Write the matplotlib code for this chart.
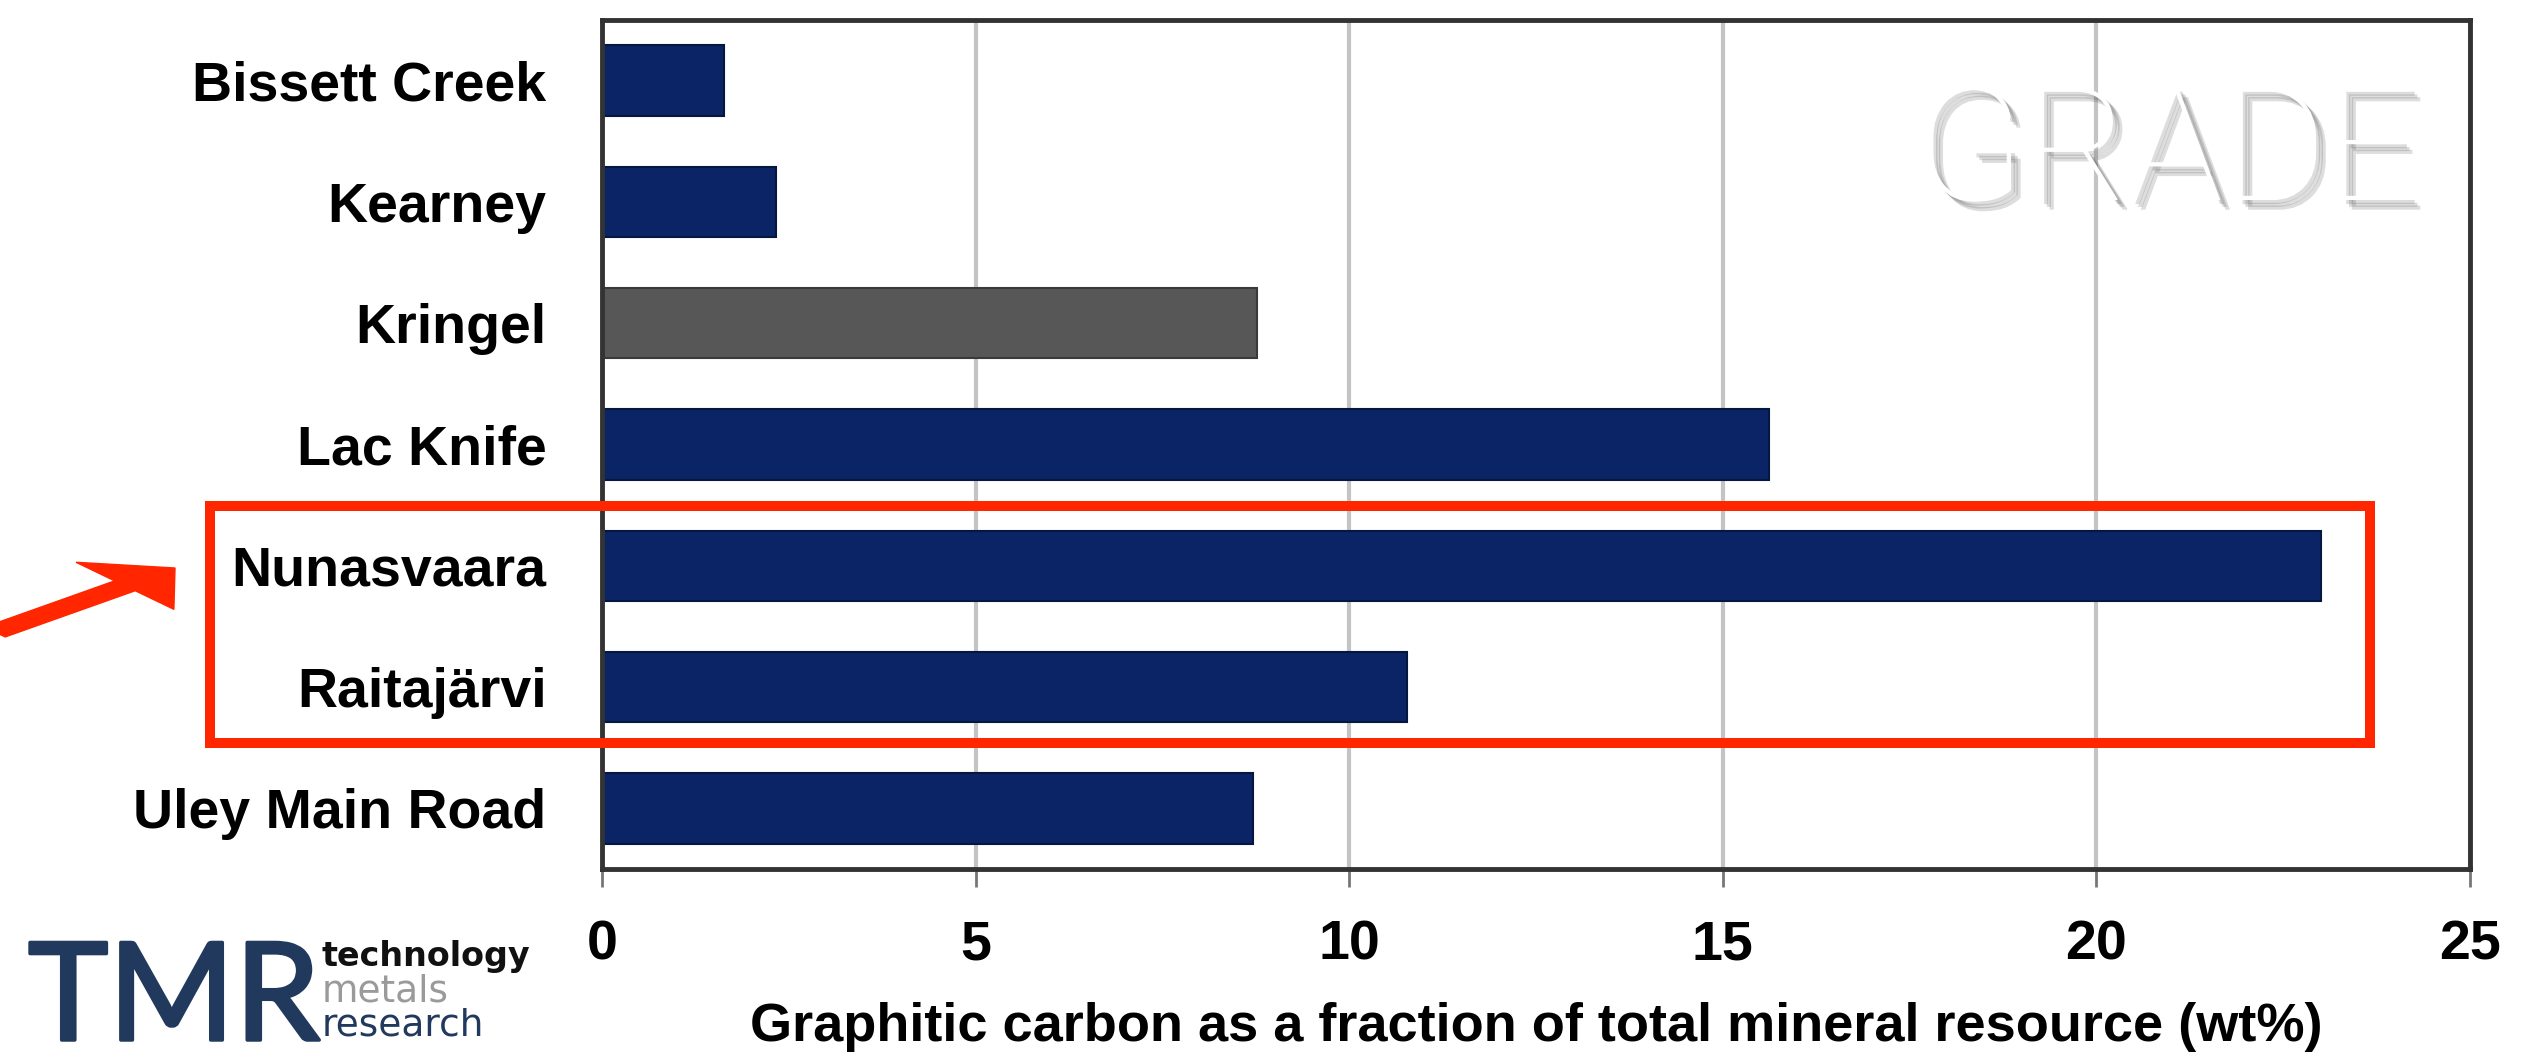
import matplotlib

matplotlib.use("Agg")
import matplotlib.pyplot as plt
import matplotlib.patheffects as pe
from matplotlib.patches import FancyArrow, Rectangle

SITES = ["Bissett Creek", "Kearney", "Kringel", "Lac Knife", "Nunasvaara", "Raitajärvi", "Uley Main Road"]
GRADE_WT = [1.63, 2.33, 8.77, 15.62, 23.0, 10.78, 8.71]
X_TICKS = [0, 5, 10, 15, 20, 25]
GREY_SITE = "Kringel"

NAVY = "#0b2466"
GREY = "#575757"
W, H = 2545, 1052


def fx(px):
    return px / W


def fy(py):
    return 1 - py / H


plt.rcParams["font.family"] = ["Liberation Sans", "DejaVu Sans"]

fig = plt.figure(figsize=(W / 100, H / 100), dpi=100)
ax = fig.add_axes([fx(602), fy(869), fx(2470) - fx(602), fy(20) - fy(869)])

colors = [GREY if site == GREY_SITE else NAVY for site in SITES]
edges = ["#3a3a3a" if site == GREY_SITE else "#06173f" for site in SITES]
ax.barh(range(len(SITES)), GRADE_WT, height=0.58, color=colors, edgecolor=edges, linewidth=1.5, zorder=2)

ax.set_xlim(0, 25)
ax.set_ylim(6.5, -0.5)
ax.set_yticks(range(len(SITES)), SITES)
ax.set_xticks(X_TICKS, [str(t) for t in X_TICKS])
ax.tick_params(axis="y", length=0, pad=40, labelsize=40)
ax.tick_params(axis="x", length=13, width=2, color="#777777", pad=23, labelsize=40)
for label in ax.get_xticklabels() + ax.get_yticklabels():
    label.set_fontweight("bold")
ax.set_axisbelow(True)
ax.grid(axis="x", color="#c4c4c4", linewidth=3)
for spine in ax.spines.values():
    spine.set_color("#333333")
    spine.set_linewidth(3.5)
ax.set_xlabel(
    "Graphitic carbon as a fraction of total mineral resource (wt%)",
    fontsize=39,
    fontweight="bold",
    labelpad=22,
)

# watermark title, white letters with a soft grey drop shadow
shadow = [
    pe.SimplePatchShadow(offset=(dx, -dx), shadow_rgbFace="#555555", alpha=0.2)
    for dx in (3, 5, 7)
]
fig.text(
    fx(2417),
    fy(200),
    "GRADE",
    ha="right",
    va="baseline",
    fontsize=114,
    color="white",
    family=["Roboto", "DejaVu Sans"],
    fontweight="light",
    path_effects=shadow + [pe.Normal()],
    zorder=5,
)

# highlight box and arrow
fig.add_artist(
    Rectangle(
        (fx(210), fy(743)),
        fx(2370) - fx(210),
        fy(506) - fy(743),
        transform=fig.transFigure,
        fill=False,
        edgecolor="#ff2600",
        linewidth=7.2,
        zorder=6,
    )
)
fig.add_artist(
    FancyArrow(
        fx(-5),
        fy(632),
        fx(175) - fx(-5),
        fy(568) - fy(632),
        width=13 / H,
        head_width=62 / H,
        head_length=66 / W,
        length_includes_head=True,
        transform=fig.transFigure,
        color="#ff2600",
        zorder=6,
    )
)

# logo
fig.text(
    fx(28), fy(1040), "TMR", ha="left", va="baseline", fontsize=98, color="#22395e",
    family=["Lato", "DejaVu Sans"],
    path_effects=[pe.withStroke(linewidth=2.5, foreground="#22395e")],
)
fig.text(fx(322), fy(966), "technology", ha="left", va="baseline", fontsize=24, fontweight="bold", color="#111111", family="DejaVu Sans")
fig.text(fx(322), fy(1002), "metals", ha="left", va="baseline", fontsize=27, color="#9a9a9a", family="DejaVu Sans")
fig.text(fx(322), fy(1036), "research", ha="left", va="baseline", fontsize=27, color="#22395e", family="DejaVu Sans")

fig.savefig("out.png", dpi=100)
plt.close(fig)
